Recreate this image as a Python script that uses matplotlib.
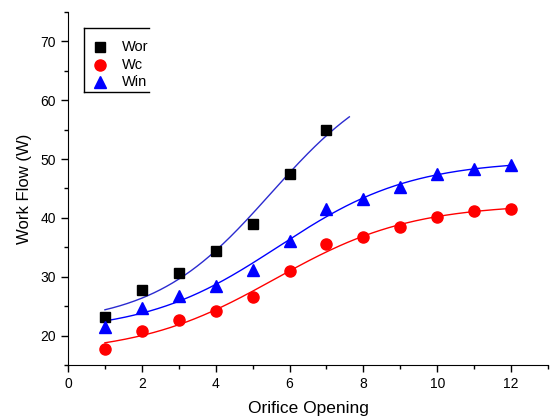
import numpy as np
import matplotlib
matplotlib.use("Agg")
import matplotlib.pyplot as plt
from matplotlib.ticker import MultipleLocator
from matplotlib.lines import Line2D
from matplotlib.transforms import Bbox

plt.rcParams['font.family'] = ['Liberation Sans', 'DejaVu Sans']

# data
x_wor = [1, 2, 3, 4, 5, 6, 7]
wor = [23.2, 27.8, 30.6, 34.3, 38.9, 47.4, 55.0]
x_all = [1, 2, 3, 4, 5, 6, 7, 8, 9, 10, 11, 12]
wc = [17.8, 20.8, 22.7, 24.2, 26.5, 30.9, 35.5, 36.7, 38.5, 40.2, 41.1, 41.6]
win = [21.5, 24.7, 26.7, 28.5, 31.2, 36.1, 41.6, 43.2, 45.3, 47.4, 48.3, 49.0]
labels = ["Wor", "Wc", "Win"]

W, H = 550, 418
fig = plt.figure(figsize=(W / 100, H / 100), dpi=100)
ax = fig.add_axes([68 / W, 53 / H, 480 / W, 353 / H])


# Boltzmann (sigmoid) fit: grid over x0, dx, linear lstsq for A1, A2
def boltzmann_fit(xs, ys, x0_, x1_, x0_max=20):
    xs = np.asarray(xs, float)
    ys = np.asarray(ys, float)
    best = None
    for x0 in np.linspace(0, x0_max, int(x0_max * 10) + 1):
        for dx in np.linspace(0.3, 6, 115):
            f = 1 / (1 + np.exp((xs - x0) / dx))
            A = np.column_stack([np.ones_like(f), f])
            coef, *_ = np.linalg.lstsq(A, ys, rcond=None)
            sse = np.sum((A @ coef - ys) ** 2)
            if best is None or sse < best[0]:
                best = (sse, x0, dx, coef)
    _, x0, dx, coef = best
    xx = np.linspace(x0_, x1_, 200)
    return xx, coef[0] + coef[1] / (1 + np.exp((xx - x0) / dx))


xx, yy = boltzmann_fit(x_wor, wor, 1, 7.62, x0_max=5.5)
ax.plot(xx, yy, color="#2b2bd0", lw=1)
xx, yy = boltzmann_fit(x_all, win, 1, 12)
ax.plot(xx, yy, color="blue", lw=1)
xx, yy = boltzmann_fit(x_all, wc, 1, 12)
ax.plot(xx, yy, color="red", lw=1)

ax.plot(x_wor, wor, "s", color="black", ms=7, ls="none")
ax.plot(x_all, wc, "o", color="red", ms=8, ls="none")
ax.plot(x_all, win, "^", color="blue", ms=8.5, ls="none")

ax.set_xlim(0, 13)
ax.set_ylim(15, 75)
ax.set_xticks([0, 2, 4, 6, 8, 10, 12])
ax.set_yticks([20, 30, 40, 50, 60, 70])
ax.xaxis.set_minor_locator(MultipleLocator(1))
ax.yaxis.set_minor_locator(MultipleLocator(5))
ax.spines["top"].set_visible(False)
ax.spines["right"].set_visible(False)
ax.tick_params(which="major", direction="out", length=5, width=1, labelsize=10)
ax.tick_params(which="minor", direction="out", length=3, width=1)
ax.set_xlabel("Orifice Opening", fontsize=12.5, labelpad=7)
ax.set_ylabel("Work Flow (W)", fontsize=12, labelpad=6)

# legend box (cut off on the right, like the original)
px = lambda x, y: (x / W, 1 - y / H)
for (xa, ya), (xb, yb) in [((84, 28), (149, 28)), ((84, 92), (149, 92)),
                           ((84, 28), (84, 92))]:
    (x1, y1), (x2, y2) = px(xa, ya), px(xb, yb)
    fig.add_artist(Line2D([x1, x2], [y1, y2], color="black", lw=1,
                          transform=fig.transFigure))
styles = [("s", "black", 7), ("o", "red", 8), ("^", "blue", 8.5)]
clip = Bbox.from_extents(0, 0, 149, H)
for lab, (m, c, s), yrow in zip(labels, styles, [47, 65, 82]):
    mx, my = px(100, yrow)
    fig.add_artist(Line2D([mx], [my], marker=m, color=c, ms=s, ls="none",
                          transform=fig.transFigure))
    tx, ty = px(122, yrow)
    t = fig.text(tx, ty, lab, fontsize=10.5, va="center", ha="left")
    t.set_clip_box(clip)
    t.set_clip_on(True)

fig.savefig("out.png", dpi=100)
